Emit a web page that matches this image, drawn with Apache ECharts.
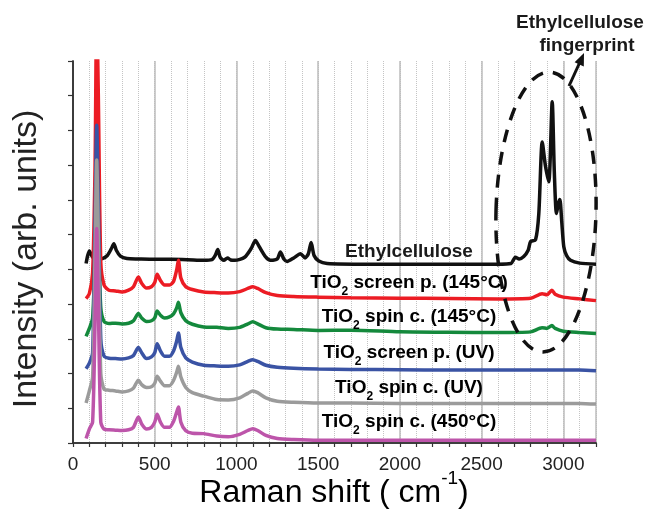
<!DOCTYPE html>
<html>
<head>
    <meta charset="utf-8" />
    <title>Raman</title>
    <script src="https://cdn.jsdelivr.net/npm/echarts@6/dist/echarts.min.js"></script>
</head>
<body style="margin:0">
    <div id="main" style="width:651px;height:512px;"></div>
    <script type="text/javascript">
        // Raman shift (cm-1) shared by the TiO2 spectra
        var shiftTiO2 = [80, 100, 120, 135, 145, 155, 170, 190, 220, 260, 300, 340, 370, 400, 420, 450, 480, 500, 515, 535,
            560, 590, 615, 635, 645, 660, 690, 730, 800, 880, 950, 1020, 1070, 1100, 1130, 1180, 1250, 1350, 1500, 1700,
            2000, 2300, 2600, 2800, 2870, 2900, 2930, 2950, 3000, 3100, 3200];
        var screen145 = [4.16, 4.3, 4.9, 8.0, 12.5, 10.0, 5.2, 4.55, 4.4, 4.38, 4.35, 4.4, 4.5, 4.78, 4.6, 4.46, 4.5, 4.62, 4.86, 4.68,
            4.55, 4.55, 4.65, 5.0, 5.26, 4.75, 4.5, 4.42, 4.35, 4.33, 4.32, 4.36, 4.45, 4.5, 4.45, 4.33, 4.25, 4.22, 4.2, 4.18,
            4.17, 4.16, 4.15, 4.17, 4.3, 4.27, 4.4, 4.28, 4.2, 4.15, 4.1];
        var spin145 = [3.07, 3.3, 3.6, 5.5, 7.5, 6.0, 3.9, 3.5, 3.44, 3.45, 3.43, 3.45, 3.52, 3.73, 3.6, 3.5, 3.52, 3.6, 3.8, 3.68,
            3.6, 3.63, 3.72, 3.9, 4.05, 3.75, 3.52, 3.42, 3.34, 3.33, 3.3, 3.33, 3.43, 3.49, 3.43, 3.32, 3.28, 3.27, 3.24, 3.25,
            3.2, 3.19, 3.18, 3.2, 3.32, 3.3, 3.38, 3.3, 3.22, 3.18, 3.15];
        var screenUV = [2.14, 2.3, 2.6, 6.5, 9.15, 7.0, 3.0, 2.5, 2.44, 2.43, 2.42, 2.45, 2.52, 2.75, 2.6, 2.43, 2.48, 2.6, 2.86, 2.65,
            2.5, 2.5, 2.65, 2.95, 3.17, 2.75, 2.45, 2.33, 2.24, 2.22, 2.21, 2.25, 2.35, 2.4, 2.35, 2.24, 2.18, 2.15, 2.13, 2.12,
            2.11, 2.1, 2.1, 2.1, 2.1, 2.1, 2.1, 2.1, 2.1, 2.1, 2.08];
        var spinUV = [1.15, 1.5, 1.9, 5.5, 8.15, 6.0, 2.0, 1.55, 1.52, 1.5, 1.47, 1.5, 1.58, 1.81, 1.68, 1.6, 1.62, 1.72, 1.92, 1.78,
            1.65, 1.65, 1.8, 2.05, 2.21, 1.9, 1.6, 1.45, 1.35, 1.25, 1.24, 1.3, 1.43, 1.5, 1.45, 1.3, 1.2, 1.17, 1.15, 1.15,
            1.14, 1.14, 1.14, 1.14, 1.14, 1.14, 1.14, 1.14, 1.14, 1.14, 1.12];
        var spin450 = [0.13, 0.4, 0.6, 3.5, 6.18, 4.0, 0.6, 0.4, 0.38, 0.37, 0.36, 0.38, 0.45, 0.75, 0.55, 0.4, 0.45, 0.6, 0.83, 0.6,
            0.45, 0.45, 0.62, 0.9, 1.04, 0.6, 0.35, 0.28, 0.27, 0.2, 0.18, 0.25, 0.36, 0.41, 0.36, 0.22, 0.13, 0.1, 0.08, 0.08,
            0.08, 0.08, 0.08, 0.08, 0.08, 0.08, 0.08, 0.08, 0.08, 0.08, 0.08];

        // ethylcellulose reference spectrum
        var shiftEthyl = [80, 90, 100, 120, 150, 180, 210, 235, 250, 265, 290, 330, 400, 500, 600, 700, 800, 850, 870, 886,
            900, 923, 945, 965, 990, 1050, 1090, 1116, 1140, 1180, 1208, 1250, 1269, 1290, 1310, 1351, 1392, 1420, 1440, 1457,
            1475, 1504, 1555, 1800, 2200, 2600, 2680, 2707, 2730, 2758, 2785, 2800, 2830, 2850, 2871, 2890, 2911, 2932, 2945, 2958,
            2970, 2979, 2990, 3003, 3020, 3044, 3100, 3200];
        var ethyl = [5.17, 5.4, 5.53, 5.35, 5.3, 5.31, 5.4, 5.6, 5.74, 5.55, 5.38, 5.31, 5.3, 5.29, 5.29, 5.28, 5.26, 5.28, 5.4, 5.57,
            5.35, 5.26, 5.33, 5.27, 5.26, 5.35, 5.6, 5.83, 5.65, 5.35, 5.26, 5.3, 5.5, 5.3, 5.23, 5.33, 5.45, 5.33, 5.45, 5.77,
            5.4, 5.24, 5.17, 5.15, 5.15, 5.15, 5.17, 5.35, 5.3, 5.37, 5.55, 5.8, 5.85, 6.6, 8.67, 8.0, 7.52, 9.83, 7.8, 6.61,
            6.9, 7.01, 6.4, 5.65, 5.4, 5.26, 5.18, 5.15];

        var seriesNames = ['Ethylcellulose', 'TiO2 screen p. (145°C)', 'TiO2 spin c. (145°C)', 'TiO2 screen p. (UV)', 'TiO2 spin c. (UV)', 'TiO2 spin c. (450°C)'];
        var seriesColors = ['#111111', '#ec1c24', '#14893c', '#3a53a4', '#9b9b9b', '#bd55aa'];

        var FONT = 'Liberation Sans, Arial, Helvetica, sans-serif';

        function pairs(xs, ys) {
            var out = [];
            for (var i = 0; i < xs.length; i++) {
                out.push([xs[i], ys[i]]);
            }
            return out;
        }

        var allData = [
            pairs(shiftEthyl, ethyl),
            pairs(shiftTiO2, screen145),
            pairs(shiftTiO2, spin145),
            pairs(shiftTiO2, screenUV),
            pairs(shiftTiO2, spinUV),
            pairs(shiftTiO2, spin450)
        ];

        var series = [];
        for (var s = 0; s < allData.length; s++) {
            series.push({
                name: seriesNames[s],
                type: 'line',
                data: allData[s],
                showSymbol: false,
                smooth: 0.25,
                clip: true,
                lineStyle: { color: seriesColors[s], width: 3.5 },
                itemStyle: { color: seriesColors[s] },
                z: 3 + s
            });
        }

        // label text, sub-scripted "2"
        var labelRich = {
            m: { fontSize: 19, fontWeight: 'bold', fontFamily: FONT, color: '#1a1a1a', lineHeight: 20 },
            sub: { fontSize: 12, fontWeight: 'bold', fontFamily: FONT, color: '#1a1a1a', lineHeight: 11, padding: [18, 0, 0, 0] }
        };
        function tioLabel(rest, y) {
            return {
                type: 'text', x: 409, y: y, z: 50,
                style: {
                    text: '{m|TiO}{sub|2}{m|' + rest + '}',
                    rich: labelRich, align: 'center', verticalAlign: 'middle'
                }
            };
        }

        var option = {
            animation: false,
            grid: { left: 73, right: 55, top: 61, bottom: 69, containLabel: false },
            xAxis: [
                {
                    type: 'value', position: 'bottom', min: 0, max: 3200, interval: 100,
                    axisLine: { show: true, lineStyle: { color: '#333', width: 1.5 } },
                    axisTick: { show: true, length: 4, lineStyle: { color: '#333', width: 1.2 } },
                    axisLabel: {
                        interval: 0, margin: 12, fontSize: 19, fontFamily: FONT, color: '#222',
                        formatter: function (v) { return v % 500 === 0 ? String(v) : ''; }
                    },
                    splitLine: { show: true, lineStyle: { color: '#c4c4c4', width: 1, type: 'dotted' } }
                },
                {
                    type: 'value', position: 'top', min: 0, max: 3200, interval: 500,
                    axisLine: { show: true, lineStyle: { color: '#333', width: 1.5 } },
                    axisTick: { show: false },
                    axisLabel: { show: false },
                    splitLine: { show: true, lineStyle: { color: '#bdbdbd', width: 1.5 } }
                }
            ],
            yAxis: [
                {
                    type: 'value', position: 'left', min: 0, max: 11, interval: 1,
                    axisLine: { show: true, lineStyle: { color: '#333', width: 1.5 } },
                    axisTick: { show: true, length: 5, lineStyle: { color: '#333', width: 1.2 } },
                    axisLabel: { show: false },
                    splitLine: { show: false }
                },
                {
                    type: 'value', position: 'right', min: 0, max: 11, interval: 1,
                    axisLine: { show: true, lineStyle: { color: '#333', width: 1.5 } },
                    axisTick: { show: false },
                    axisLabel: { show: false },
                    splitLine: { show: false }
                }
            ],
            series: series,
            graphic: [
                // axis titles
                {
                    type: 'text', x: 27, y: 259, rotation: Math.PI / 2,
                    style: {
                        text: 'Intensity (arb. units)', font: '34px ' + FONT, fill: '#222',
                        align: 'center', verticalAlign: 'middle'
                    }
                },
                {
                    type: 'text', x: 334, y: 493,
                    style: {
                        text: '{m|Raman shift ( cm}{sup|-1}{m|)}',
                        align: 'center', verticalAlign: 'middle',
                        rich: {
                            m: { fontSize: 32, fontFamily: FONT, color: '#222', lineHeight: 34 },
                            sup: { fontSize: 19, fontFamily: FONT, color: '#222', lineHeight: 20, padding: [0, 0, 28, 0] }
                        }
                    }
                },
                // series labels
                {
                    type: 'text', x: 409, y: 252, z: 50,
                    style: { text: 'Ethylcellulose', font: 'bold 19px ' + FONT, fill: '#1a1a1a', align: 'center', verticalAlign: 'middle' }
                },
                tioLabel(' screen p. (145°C)', 283),
                tioLabel(' spin c. (145°C)', 317),
                tioLabel(' screen p. (UV)', 353),
                tioLabel(' spin c. (UV)', 388),
                tioLabel(' spin c. (450°C)', 422),
                // fingerprint annotation
                {
                    type: 'text', x: 580, y: 23, z: 50,
                    style: { text: 'Ethylcellulose', font: 'bold 19px ' + FONT, fill: '#1a1a1a', align: 'center', verticalAlign: 'middle' }
                },
                {
                    type: 'text', x: 587, y: 46, z: 50,
                    style: { text: 'fingerprint', font: 'bold 19px ' + FONT, fill: '#1a1a1a', align: 'center', verticalAlign: 'middle' }
                },
                {
                    type: 'ellipse', z: 40,
                    shape: { cx: 546, cy: 212, rx: 50, ry: 140 },
                    rotation: -0.025, originX: 546, originY: 212,
                    style: { fill: 'none', stroke: '#111', lineWidth: 3.5, lineDash: [13, 10] }
                },
                {
                    type: 'line', z: 40,
                    shape: { x1: 569, y1: 86, x2: 579.5, y2: 63 },
                    style: { stroke: '#111', lineWidth: 3 }
                },
                {
                    type: 'polygon', z: 40,
                    shape: { points: [[584, 53], [583.8, 66.5], [574.6, 62.3]] },
                    style: { fill: '#111' }
                }
            ]
        };

        var myChart = echarts.init(document.getElementById('main'));
        myChart.setOption(option);
    </script>
</body>
</html>
